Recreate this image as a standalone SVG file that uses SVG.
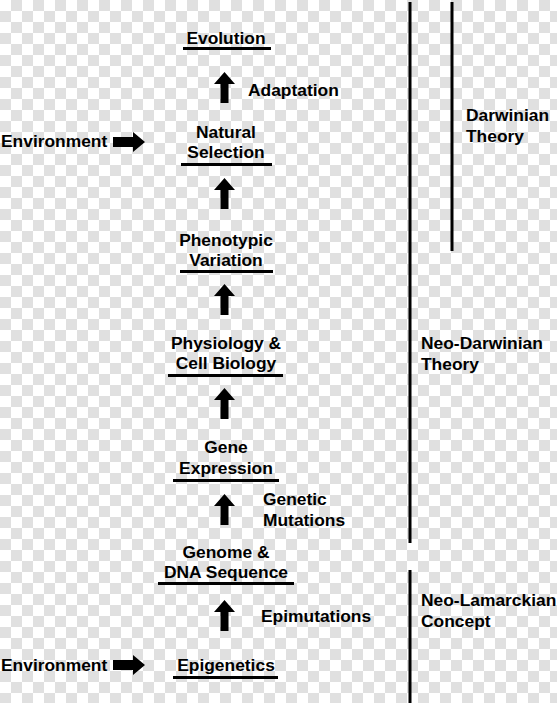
<svg xmlns="http://www.w3.org/2000/svg" width="557" height="703" viewBox="0 0 557 703">
<style>
text{font-family:"Liberation Sans",Arial,sans-serif;font-weight:bold;font-size:17.4px;fill:#000}
.c{text-anchor:middle}
.ul{stroke:#000;stroke-width:3}
.vl{stroke:#000;stroke-width:3}
</style>
<defs>
<pattern id="ck" width="22" height="22" patternUnits="userSpaceOnUse">
<rect width="22" height="22" fill="#ffffff"/>
<rect x="11" y="0" width="11" height="11" fill="#e0e0e0"/>
<rect x="0" y="11" width="11" height="11" fill="#e0e0e0"/>
</pattern>
<path id="up" d="M0,0 L10.5,12 L4,12 L4,31 L-4,31 L-4,12 L-10.5,12 Z" fill="#000"/>
<path id="rt" d="M0,-5 L20,-5 L20,-10 L32,0 L20,10 L20,5 L0,5 Z" fill="#000"/>
</defs>
<rect width="557" height="703" fill="url(#ck)"/>

<g id="bars">
<line class="vl" x1="410" y1="2" x2="410" y2="543"/>
<line class="vl" x1="410" y1="570" x2="410" y2="703"/>
<line class="vl" x1="452" y1="2" x2="452" y2="251"/>
</g>

<g id="evolution">
<text class="c" x="226" y="44">Evolution</text>
<line class="ul" x1="183" y1="48.5" x2="271" y2="48.5"/>
</g>
<g id="natural-selection">
<text class="c" x="226" y="138">Natural</text>
<text class="c" x="226" y="158">Selection</text>
<line class="ul" x1="181" y1="164.5" x2="272" y2="164.5"/>
</g>
<g id="phenotypic-variation">
<text class="c" x="226" y="246">Phenotypic</text>
<text class="c" x="226" y="266">Variation</text>
<line class="ul" x1="180" y1="271.5" x2="273" y2="271.5"/>
</g>
<g id="physiology">
<text class="c" x="226" y="349">Physiology &amp;</text>
<text class="c" x="226" y="369">Cell Biology</text>
<line class="ul" x1="168" y1="375.5" x2="283" y2="375.5"/>
</g>
<g id="gene-expression">
<text class="c" x="226" y="453">Gene</text>
<text class="c" x="226" y="474">Expression</text>
<line class="ul" x1="173" y1="480.5" x2="279" y2="480.5"/>
</g>
<g id="genome">
<text class="c" x="226" y="558">Genome &amp;</text>
<text class="c" x="226" y="578">DNA Sequence</text>
<line class="ul" x1="158" y1="583.5" x2="294" y2="583.5"/>
</g>
<g id="epigenetics">
<text class="c" x="226" y="671">Epigenetics</text>
<line class="ul" x1="173" y1="677.5" x2="278" y2="677.5"/>
</g>
<g id="environment-top">
<text x="1" y="147">Environment</text>
</g>
<g id="environment-bottom">
<text x="1" y="671">Environment</text>
</g>

<g id="connectors">
<use href="#up" x="224.5" y="72"/>
<use href="#up" x="224.5" y="178"/>
<use href="#up" x="224.5" y="284"/>
<use href="#up" x="224.5" y="388"/>
<use href="#up" x="224.5" y="494"/>
<use href="#up" x="224.5" y="600"/>
<use href="#rt" x="113" y="142"/>
<use href="#rt" x="113" y="665"/>
</g>

<g id="labels">
<text x="248" y="96">Adaptation</text>
<text x="263" y="505">Genetic</text>
<text x="263" y="526">Mutations</text>
<text x="261" y="622">Epimutations</text>
<text x="466" y="121">Darwinian</text>
<text x="466" y="142">Theory</text>
<text x="421" y="349">Neo-Darwinian</text>
<text x="421" y="370">Theory</text>
<text x="421" y="606">Neo-Lamarckian</text>
<text x="421" y="627">Concept</text>
</g>
</svg>
